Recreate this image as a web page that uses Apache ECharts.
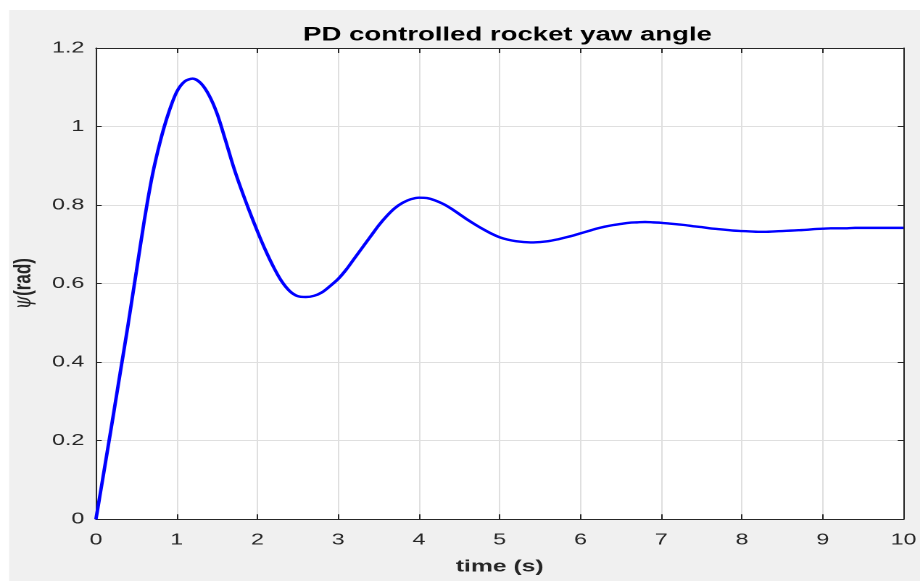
<!DOCTYPE html>
<html>
<head>
<meta charset="utf-8">
<script src="https://cdn.jsdelivr.net/npm/echarts@6/dist/echarts.min.js"></script>
<style>
  html, body { margin: 0; padding: 0; background: #ffffff; }
  #wrap { width: 920px; height: 581px; overflow: hidden; position: relative; background: #ffffff; }
  #chart { width: 634.5px; height: 581px; transform: scaleX(1.45); transform-origin: 0 0; position: absolute; left: 0; top: 0; }
</style>
</head>
<body>
<div id="wrap"><div id="chart"></div></div>
<script>
// Data (time step 0.1 s)
const timeS = [
  0.0, 0.1, 0.2, 0.3, 0.4, 0.5, 0.6, 0.7, 0.8, 0.9,
  1.0, 1.1, 1.2, 1.3, 1.4, 1.5, 1.6, 1.7, 1.8, 1.9,
  2.0, 2.1, 2.2, 2.3, 2.4, 2.5, 2.6, 2.7, 2.8, 2.9,
  3.0, 3.1, 3.2, 3.3, 3.4, 3.5, 3.6, 3.7, 3.8, 3.9,
  4.0, 4.1, 4.2, 4.3, 4.4, 4.5, 4.6, 4.7, 4.8, 4.9,
  5.0, 5.1, 5.2, 5.3, 5.4, 5.5, 5.6, 5.7, 5.8, 5.9,
  6.0, 6.1, 6.2, 6.3, 6.4, 6.5, 6.6, 6.7, 6.8, 6.9,
  7.0, 7.1, 7.2, 7.3, 7.4, 7.5, 7.6, 7.7, 7.8, 7.9,
  8.0, 8.1, 8.2, 8.3, 8.4, 8.5, 8.6, 8.7, 8.8, 8.9,
  9.0, 9.1, 9.2, 9.3, 9.4, 9.5, 9.6, 9.7, 9.8, 9.9,
  10.0];
const yawRad = [
  0.000, 0.122, 0.246, 0.372, 0.498, 0.630, 0.762, 0.877, 0.965, 1.035,
  1.088, 1.115, 1.122, 1.110, 1.080, 1.033, 0.968, 0.900, 0.840, 0.785,
  0.733, 0.685, 0.642, 0.606, 0.581, 0.568, 0.566, 0.569, 0.578, 0.594,
  0.612, 0.636, 0.664, 0.692, 0.720, 0.748, 0.772, 0.792, 0.806, 0.815,
  0.819, 0.818, 0.812, 0.803, 0.791, 0.777, 0.763, 0.750, 0.738, 0.727,
  0.718, 0.712, 0.708, 0.706, 0.705, 0.706, 0.708, 0.712, 0.717, 0.722,
  0.728, 0.734, 0.740, 0.745, 0.749, 0.752, 0.755, 0.756, 0.757, 0.756,
  0.755, 0.753, 0.751, 0.749, 0.746, 0.744, 0.741, 0.739, 0.737, 0.735,
  0.734, 0.733, 0.732, 0.732, 0.733, 0.734, 0.735, 0.736, 0.737, 0.739,
  0.740, 0.741, 0.741, 0.741, 0.742, 0.742, 0.742, 0.742, 0.742, 0.742,
  0.742];
const xTicks = [0, 1, 2, 3, 4, 5, 6, 7, 8, 9, 10];
const yTicks = [0, 0.2, 0.4, 0.6, 0.8, 1, 1.2];
const titleText = 'PD controlled rocket yaw angle';
const xName = 'time (s)';

const chart = echarts.init(document.getElementById('chart'), null, { renderer: 'canvas', devicePixelRatio: 2 });
const axisColor = '#262626';
const gridColor = '#dfdfdf';
const fontFam = 'Liberation Sans, Arial, sans-serif';

const lineData = timeS.map((t, i) => [t, yawRad[i]]);

const option = {
  animation: false,
  backgroundColor: 'transparent',
  graphic: [{
    type: 'rect', z: -100, silent: true,
    shape: { x: 6.2, y: 10, width: 700, height: 600 },
    style: { fill: '#f0f0f0' }
  }],
  title: {
    text: titleText,
    left: 345, top: 21, textAlign: 'center',
    textStyle: { fontFamily: fontFam, fontWeight: 'bold', fontSize: 19, color: '#000000' }
  },
  grid: {
    left: 64.8, top: 48, right: 9, bottom: 61.7,
    show: true, backgroundColor: '#ffffff', borderWidth: 0
  },
  xAxis: [{
    type: 'value', min: xTicks[0], max: xTicks[xTicks.length - 1], interval: 1,
    position: 'bottom',
    name: xName, nameLocation: 'middle', nameGap: 39,
    nameTextStyle: { fontFamily: fontFam, fontWeight: 'bold', fontSize: 17, color: '#262626' },
    axisLine: { show: true, onZero: false, lineStyle: { color: axisColor, width: 1 } },
    axisTick: { show: true, inside: true, length: 5, lineStyle: { color: axisColor } },
    axisLabel: { margin: 13, fontFamily: fontFam, fontSize: 16, color: '#262626' },
    splitLine: { show: true, lineStyle: { color: gridColor, width: 1 } }
  }, {
    type: 'value', min: xTicks[0], max: xTicks[xTicks.length - 1], interval: 1,
    position: 'top',
    axisLine: { show: true, onZero: false, lineStyle: { color: axisColor, width: 1 } },
    axisTick: { show: true, inside: true, length: 5, lineStyle: { color: axisColor } },
    axisLabel: { show: false },
    splitLine: { show: false }
  }],
  yAxis: [{
    type: 'value', min: yTicks[0], max: yTicks[yTicks.length - 1], interval: 0.2,
    position: 'left',
    name: '{psi|ψ}{b|(rad)}', nameLocation: 'middle', nameGap: 36, nameRotate: 90,
    nameTextStyle: {
      rich: {
        psi: { fontFamily: 'DejaVu Serif', fontStyle: 'italic', fontSize: 17, color: '#262626' },
        b: { fontFamily: fontFam, fontWeight: 'bold', fontSize: 17, color: '#262626' }
      }
    },
    axisLine: { show: true, onZero: false, lineStyle: { color: axisColor, width: 1 } },
    axisTick: { show: true, inside: true, length: 4, lineStyle: { color: axisColor } },
    axisLabel: { margin: 8, fontFamily: fontFam, fontSize: 16, color: '#262626' },
    splitLine: { show: true, lineStyle: { color: gridColor, width: 1 } }
  }, {
    type: 'value', min: yTicks[0], max: yTicks[yTicks.length - 1], interval: 0.2,
    position: 'right',
    axisLine: { show: true, onZero: false, lineStyle: { color: axisColor, width: 1 } },
    axisTick: { show: true, inside: true, length: 4, lineStyle: { color: axisColor } },
    axisLabel: { show: false },
    splitLine: { show: false }
  }],
  series: [{
    type: 'line',
    data: lineData,
    xAxisIndex: 0, yAxisIndex: 0,
    showSymbol: false,
    smooth: 0.3,
    clip: true,
    lineStyle: { color: '#0000ff', width: 2.4 }
  }]
};
chart.setOption(option);
</script>
</body>
</html>
